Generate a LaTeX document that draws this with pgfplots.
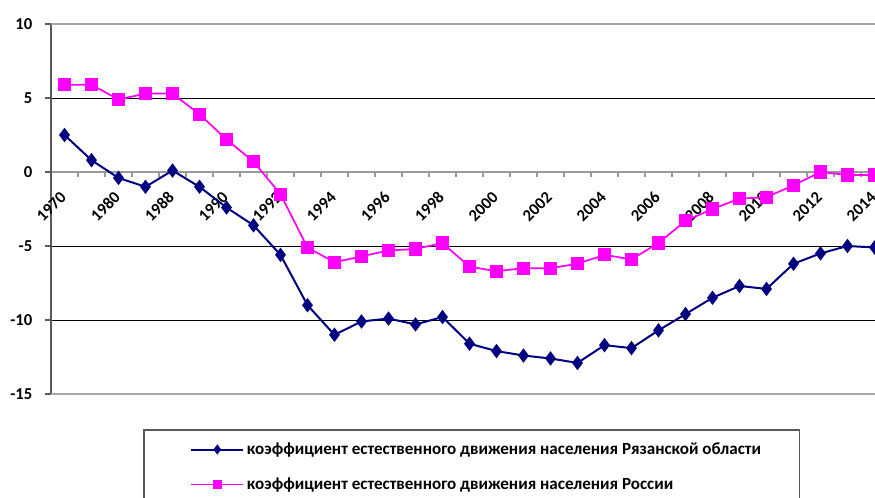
\documentclass[border=0pt]{standalone}
\usepackage{pgfplots}
\pgfplotsset{compat=1.18}
\usepackage{fontspec}
\setmainfont{Carlito}

% natural increase per 1000 people
\pgfplotstableread{
idx ryazan russia
0   2.5   5.9
1   0.8   5.9
2  -0.4   4.9
3  -1.0   5.3
4   0.1   5.3
5  -1.0   3.9
6  -2.4   2.2
7  -3.6   0.7
8  -5.6  -1.5
9  -9.0  -5.1
10 -11.0  -6.1
11 -10.1  -5.7
12  -9.9  -5.3
13 -10.3  -5.2
14  -9.8  -4.8
15 -11.6  -6.4
16 -12.1  -6.7
17 -12.4  -6.5
18 -12.6  -6.5
19 -12.9  -6.2
20 -11.7  -5.6
21 -11.9  -5.9
22 -10.7  -4.8
23  -9.6  -3.3
24  -8.5  -2.5
25  -7.7  -1.8
26  -7.9  -1.7
27  -6.2  -0.9
28  -5.5   0.0
29  -5.0  -0.2
30  -5.1  -0.2
}\natdata

\definecolor{ryaz}{RGB}{0,0,128}
\definecolor{rus}{RGB}{255,0,255}

\begin{document}
\begin{tikzpicture}
\begin{axis}[
    scale only axis,
    width=627.75pt, height=277.5pt,
    xmin=-0.5, xmax=30.5,
    ymin=-15, ymax=10,
    clip mode=individual,
    axis x line*=middle,
    axis y line*=left,
    x axis line style={gray!80, line width=1.1pt},
    y axis line style={black!65, line width=1.5pt},
    xtick={0,2,...,30},
    xticklabels={1970,1980,1988,1990,1992,1994,1996,1998,2000,2002,2004,2006,2008,2010,2012,2014},
    minor xtick={-0.5,0.5,...,30.5},
    major x tick style={draw=none},
    minor x tick style={gray!80, line width=0.9pt},
    minor tick length=4pt,
    xtick align=outside,
    ytick={-15,-10,-5,0,5,10},
    yticklabels={-15,-10,-5,0,5,10},
    ytick align=outside,
    major tick length=4.5pt,
    y tick style={black!65, line width=1pt},
    ymajorgrids,
    grid style={black, line width=0.75pt},
    ticklabel style={font=\bfseries\fontsize{12.5}{14}\selectfont},
    xticklabel style={xshift=1.5pt, yshift=-9.8pt, rotate=45, anchor=east},
    yticklabel style={xshift=-6pt},
    legend style={
        draw=none, fill=none,
        at={(rel axis cs:0.1661,-0.1973)}, anchor=west,
        inner sep=0pt, row sep=12pt,
        font=\bfseries\fontsize{12.8}{14}\selectfont,
        cells={anchor=west},
    },
    legend image code/.code={
        \draw[mark repeat=2, mark phase=2, #1]
            plot coordinates {(0pt,0pt) (19.5pt,0pt) (39pt,0pt)};
    },
    legend image post style={mark size=2.6pt},
]
\addplot[color=ryaz, line width=1.5pt, mark=diamond*, mark size=4.2pt,
    mark options={solid, fill=ryaz}]
    table[x=idx, y=ryazan] {\natdata};
\addlegendentry{коэффициент естественного движения населения Рязанской области}
\addplot[color=rus, line width=1.3pt, mark=square*, mark size=4.3pt,
    mark options={solid, fill=rus}]
    table[x=idx, y=russia] {\natdata};
\addlegendentry{коэффициент естественного движения населения России}

% plot area border, top and bottom
\draw[gray!70, line width=0.9pt] (rel axis cs:0,1) -- (rel axis cs:1,1);
\draw[gray!70, line width=1.5pt] (rel axis cs:0,0) -- (rel axis cs:1,0);
% legend frame
\draw[black!65, line width=0.8pt] (rel axis cs:0.1111,-0.0973) rectangle (rel axis cs:0.8937,-0.32);
\end{axis}
\pgfresetboundingbox
\useasboundingbox (-38.25pt,-77.25pt) rectangle (618pt,295.5pt);
\end{tikzpicture}
\end{document}
